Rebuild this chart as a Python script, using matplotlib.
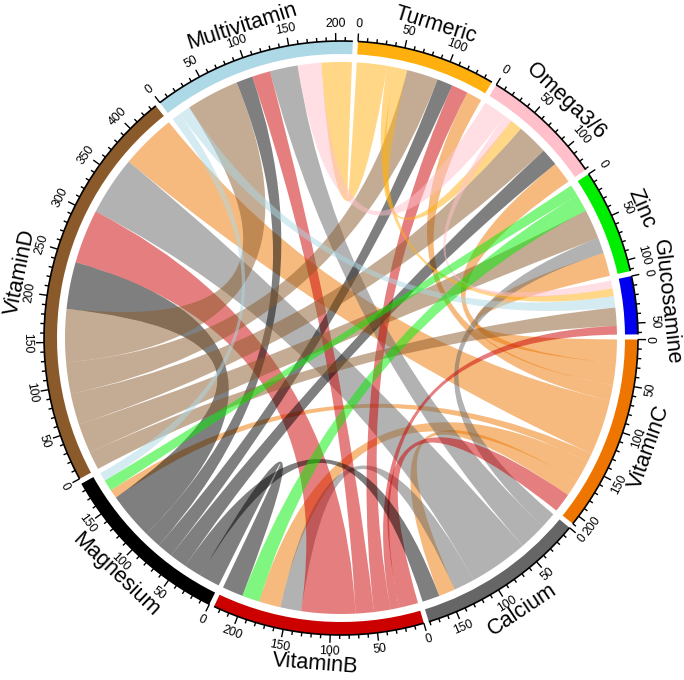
import numpy as np
import matplotlib
matplotlib.use('Agg')
from matplotlib import pyplot as plt
from matplotlib.patches import PathPatch, Wedge
from matplotlib.path import Path

plt.rcParams['font.family'] = ['Liberation Sans', 'DejaVu Sans']

#sectors in clockwise order, starting at 3 o'clock
sectors = ['VitaminC', 'Calcium', 'VitaminB', 'Magnesium', 'VitaminD',
           'Multivitamin', 'Turmeric', 'Omega3/6', 'Zinc', 'Glucosamine']
sectorColors = ['#EE7600', '#666666', '#CD0000', '#000000', '#8B5A2B',
                '#ADD8E6', '#FFB00F', '#FFC0CB', '#00EE00', '#0000EE']

#values, one small table per source sector
fromVitaminC = {'Zinc': 27, 'Omega3/6': 25, 'Turmeric': 18, 'VitaminD': 64, 'Magnesium': 10, 'VitaminB': 25, 'Calcium': 19}
fromCalcium = {'Zinc': 18, 'Multivitamin': 32, 'VitaminD': 68, 'VitaminB': 24}
fromVitaminB = {'VitaminC': 22, 'Glucosamine': 10, 'Turmeric': 19, 'Multivitamin': 21, 'VitaminD': 62}
fromMagnesium = {'VitaminB': 24, 'Calcium': 20, 'Omega3/6': 20, 'Turmeric': 18, 'Multivitamin': 19, 'VitaminD': 54}
fromVitaminD = {'Glucosamine': 21, 'Zinc': 34, 'Omega3/6': 36, 'Turmeric': 36, 'Multivitamin': 61}
fromMultivitamin = {'Magnesium': 10, 'Glucosamine': 13}
fromTurmeric = {'Multivitamin': 35, 'Glucosamine': 9, 'Omega3/6': 14}
fromOmega = {'Multivitamin': 27, 'Glucosamine': 9}
fromZinc = {'Magnesium': 13, 'VitaminB': 20}

links = {'VitaminC': fromVitaminC, 'Calcium': fromCalcium, 'VitaminB': fromVitaminB,
         'Magnesium': fromMagnesium, 'VitaminD': fromVitaminD, 'Multivitamin': fromMultivitamin,
         'Turmeric': fromTurmeric, 'Omega3/6': fromOmega, 'Zinc': fromZinc}

#geometry in pixels, angles are clockwise from north
startAngle = 90.3
gapDeg = 1.0
rOuter = 297
rInner = 284
rChord = 276
rTickLabel = 314
rName = 327

n = len(sectors)

#ccw distance decides the order of the links inside a sector
def ccwDist(a, b):
	return (sectors.index(a) - sectors.index(b)) % n

#outgoing links first, then incoming ones
order = {s: [] for s in sectors}
for s in sectors:
	out = links.get(s, {})
	for t in sorted(out, key=lambda x: ccwDist(s, x)):
		order[s].append((s, t, out[t]))
	inc = [src for src in links if s in links[src]]
	for src in sorted(inc, key=lambda x: ccwDist(s, x)):
		order[s].append((src, s, links[src][s]))

totals = [sum(v[2] for v in order[s]) for s in sectors]
scale = (360 - n*gapDeg)/sum(totals)

#sector start angles
starts = {}
ang = startAngle
for s, tot in zip(sectors, totals):
	starts[s] = ang
	ang += tot*scale + gapDeg

#angle range of every link end
ends = {}
for s in sectors:
	pos = starts[s]
	for src, dst, val in order[s]:
		ends[(src, dst, s)] = (pos, pos + val*scale)
		pos += val*scale

def polar(theta, r):
	t = np.radians(theta)
	return r*np.sin(t), r*np.cos(t)

def textRot(theta):
	theta = theta % 360
	if 90 < theta < 270:
		return 180 - theta
	return -theta

def arcPts(a, b, r):
	return [polar(t, r) for t in np.linspace(a, b, 30)]

fig = plt.figure(figsize=(6.84, 6.80), dpi=100)
ax = fig.add_axes([0, 0, 1, 1])
ax.set_xlim(-341, 343)
ax.set_ylim(-342, 338)
ax.axis('off')

#links
for src in links:
	for dst, val in links[src].items():
		a1, a2 = ends[(src, dst, src)]
		b1, b2 = ends[(src, dst, dst)]
		arcA = arcPts(a1, a2, rChord)
		arcB = arcPts(b1, b2, rChord)
		verts = arcA + [(0, 0)] + arcB + [(0, 0), arcA[0]]
		codes = [Path.MOVETO] + [Path.LINETO]*(len(arcA)-1) + [Path.CURVE3, Path.CURVE3]
		codes += [Path.LINETO]*(len(arcB)-1) + [Path.CURVE3, Path.CURVE3]
		col = sectorColors[sectors.index(src)]
		ax.add_patch(PathPatch(Path(verts, codes), facecolor=col, edgecolor='none', alpha=0.5))

#outer ring, axis line, ticks and labels
for s, tot, col in zip(sectors, totals, sectorColors):
	a = starts[s]
	b = a + tot*scale
	ax.add_patch(Wedge((0, 0), rOuter, 90-b, 90-a, width=rOuter-rInner, facecolor=col, edgecolor='none'))
	x, y = zip(*arcPts(a, b, rOuter))
	ax.plot(x, y, color='black', lw=1.2, solid_capstyle='butt')
	for v in range(0, tot+1, 10):
		t = a + v*scale
		major = v % 50 == 0
		p1 = polar(t, rOuter)
		p2 = polar(t, rOuter + (8 if major else 4))
		ax.plot([p1[0], p2[0]], [p1[1], p2[1]], color='black', lw=1.0, solid_capstyle='butt')
		if major:
			lx, ly = polar(t, rTickLabel)
			ax.text(lx, ly, str(v), fontsize=8.8, ha='center', va='center',
				rotation=textRot(t), rotation_mode='anchor')
	mid = (a + b)/2
	nx, ny = polar(mid, rName)
	ax.text(nx, ny, s, fontsize=15.6, ha='center', va='center',
		rotation=textRot(mid), rotation_mode='anchor')

fig.savefig('out.png', dpi=100, facecolor='white')
